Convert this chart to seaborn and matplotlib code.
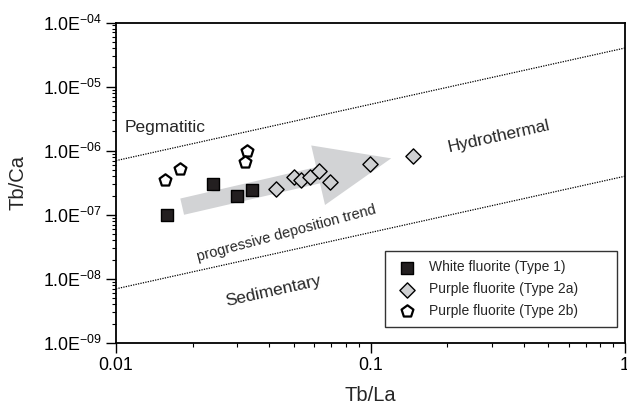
import numpy as np
import pandas as pd
import matplotlib
matplotlib.use("Agg")
import matplotlib.pyplot as plt
import matplotlib.ticker as mticker
import seaborn as sns

# ---- data ----
white_x = [0.0158, 0.0240, 0.0299, 0.0342]
white_y = [1.0e-7, 3.0e-7, 2.0e-7, 2.45e-7]

purple2a_x = [0.0427, 0.0499, 0.0535, 0.0576, 0.0627, 0.0695, 0.0997, 0.147]
purple2a_y = [2.5e-7, 3.95e-7, 3.5e-7, 3.95e-7, 4.9e-7, 3.25e-7, 6.2e-7, 8.3e-7]

purple2b_x = [0.0156, 0.0178, 0.0326, 0.0322]
purple2b_y = [3.45e-7, 5.2e-7, 1.0e-6, 6.6e-7]

boundary_x = [0.01, 1.0]
upper_boundary_y = [7.0e-7, 4.0e-5]
lower_boundary_y = [7.0e-9, 4.0e-7]

arrow_tail = (0.0182, 1.34e-7)
arrow_tip = (0.1206, 7.6e-7)

y_ticks = [1e-9, 1e-8, 1e-7, 1e-6, 1e-5, 1e-4]
y_tick_labels = [r"1.0E$^{-09}$", r"1.0E$^{-08}$", r"1.0E$^{-07}$",
                 r"1.0E$^{-06}$", r"1.0E$^{-05}$", r"1.0E$^{-04}$"]
x_ticks = [0.01, 0.1, 1]
x_tick_labels = ["0.01", "0.1", "1"]

labels = ["White fluorite (Type 1)", "Purple fluorite (Type 2a)", "Purple fluorite (Type 2b)"]

df = pd.DataFrame({
    "x": white_x + purple2a_x + purple2b_x,
    "y": white_y + purple2a_y + purple2b_y,
    "group": [labels[0]] * len(white_x) + [labels[1]] * len(purple2a_x) + [labels[2]] * len(purple2b_x),
})

sns.set_style("white")
plt.rcParams["font.family"] = ["Liberation Sans", "DejaVu Sans"]
plt.rcParams["mathtext.fontset"] = "custom"
plt.rcParams["mathtext.rm"] = "Liberation Sans"
plt.rcParams["mathtext.it"] = "Liberation Sans"
plt.rcParams["mathtext.default"] = "regular"

fig = plt.figure(figsize=(6.27, 4.08), dpi=100)
ax = fig.add_axes([116 / 627, 1 - 343 / 408, (625 - 116) / 627, (343 - 22.5) / 408])
ax.set_xscale("log")
ax.set_yscale("log")
ax.set_xlim(0.01, 1)
ax.set_ylim(1e-9, 1e-4)

# boundary lines
ax.plot(boundary_x, upper_boundary_y, color="black", lw=0.9, ls=(0, (1, 1)), zorder=2)
ax.plot(boundary_x, lower_boundary_y, color="black", lw=0.9, ls=(0, (1, 1)), zorder=2)

# trend arrow
ax.annotate("", xy=arrow_tip, xytext=arrow_tail,
            arrowprops=dict(arrowstyle="simple,head_length=5.4,head_width=4.4,tail_width=1.2",
                            mutation_scale=10, color="#d2d3d5", lw=0,
                            shrinkA=0, shrinkB=0), zorder=1)

markers = {labels[0]: "s", labels[1]: "D", labels[2]: "p"}
palette = {labels[0]: "#231f20", labels[1]: "#cfd0d2", labels[2]: "white"}
sizes = {labels[0]: 75, labels[1]: 60, labels[2]: 80}
for lab in labels:
    sub = df[df["group"] == lab]
    sns.scatterplot(data=sub, x="x", y="y", ax=ax, marker=markers[lab],
                    color=palette[lab], edgecolor="black",
                    linewidth=1.6 if lab == labels[2] else 1.0,
                    s=sizes[lab], label=lab, zorder=4)

# region labels
ax.text(0.01556, 2.34e-6, "Pegmatitic", fontsize=12.5, ha="center", va="center")
ax.text(0.321, 1.65e-6, "Hydrothermal", fontsize=12.5, ha="center", va="center", rotation=12.5)
ax.text(0.0468, 5.2e-8, "progressive deposition trend", fontsize=10.5, ha="center", va="center", rotation=15)
ax.text(0.0415, 6.5e-9, "Sedimentary", fontsize=12.5, ha="center", va="center", rotation=12.5)

ax.set_xticks(x_ticks)
ax.set_xticklabels(x_tick_labels)
ax.set_yticks(y_ticks)
ax.set_yticklabels(y_tick_labels)
ax.xaxis.set_minor_locator(mticker.LogLocator(base=10, subs=np.arange(2, 10)))
ax.yaxis.set_minor_locator(mticker.LogLocator(base=10, subs=np.arange(2, 10)))
ax.xaxis.set_minor_formatter(mticker.NullFormatter())
ax.yaxis.set_minor_formatter(mticker.NullFormatter())
ax.tick_params(which="major", direction="out", length=7, width=1.0, labelsize=12.8, colors="black", pad=3)
ax.tick_params(which="minor", direction="out", length=3, width=0.8, colors="black")
ax.tick_params(axis="x", which="both", bottom=True)
ax.tick_params(axis="y", which="both", left=True)

for sp in ax.spines.values():
    sp.set_color("black")
    sp.set_linewidth(1.3)

ax.set_xlabel("Tb/La", fontsize=14.5, labelpad=9)
ax.set_ylabel("Tb/Ca", fontsize=14.5, labelpad=11)

leg_left = (385 - 116) / 509
leg_bottom = (343 - 327) / 320.5
leg = ax.legend(loc="lower left", bbox_to_anchor=(leg_left, leg_bottom, (617 - 385) / 509, 0.23),
                mode="expand", fontsize=10, frameon=True,
                fancybox=False, edgecolor="black", handletextpad=0.75, borderpad=0.65,
                labelspacing=0.56, handlelength=1.8, borderaxespad=0)
leg.get_frame().set_linewidth(1.0)

fig.savefig("out.png", dpi=100)
